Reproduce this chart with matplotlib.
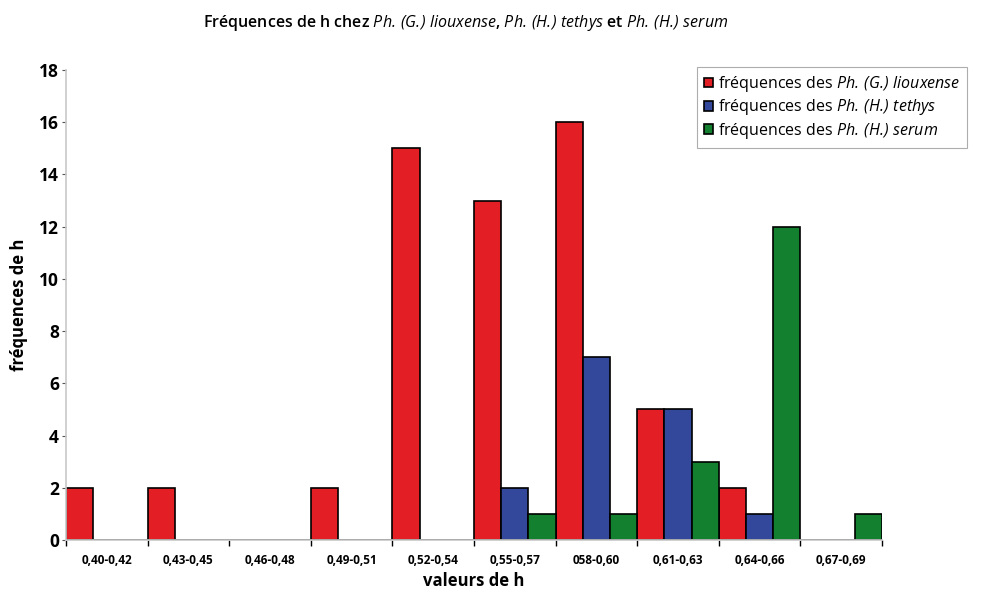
import matplotlib.pyplot as plt
import numpy as np

plt.rcParams['font.family'] = ['Open Sans', 'DejaVu Sans']
plt.rcParams['mathtext.fontset'] = 'custom'
plt.rcParams['mathtext.it'] = 'Open Sans:italic'
plt.rcParams['mathtext.rm'] = 'Open Sans:italic'
plt.rcParams['mathtext.default'] = 'it'

categories = ['0,40-0,42', '0,43-0,45', '0,46-0,48', '0,49-0,51', '0,52-0,54',
              '0,55-0,57', '058-0,60', '0,61-0,63', '0,64-0,66', '0,67-0,69']
liouxense = [2, 2, 0, 2, 15, 13, 16, 5, 2, 0]
tethys = [0, 0, 0, 0, 0, 2, 7, 5, 1, 0]
serum = [0, 0, 0, 0, 0, 1, 1, 3, 12, 1]

series = [
    (liouxense, '#e31e24', 'fréquences des $Ph.\\,(G.\\!)\\ liouxense$'),
    (tethys, '#33489a', 'fréquences des $Ph.\\,(H.\\!)\\ tethys$'),
    (serum, '#13802f', 'fréquences des $Ph.\\,(H.\\!)\\ serum$'),
]

fig = plt.figure(figsize=(9.85, 5.94), dpi=100)
ax = fig.add_axes([66/985, 54/594, 816/985, 470/594])

x = np.arange(len(categories))
w = 1/3
for j, (vals, col, lab) in enumerate(series):
    ax.bar(x + j*w, vals, width=w, align='edge', color=col,
           edgecolor='black', linewidth=1.2, label=lab)

ax.set_xlim(0, len(categories))
ax.set_ylim(0, 18)
ax.set_yticks(range(0, 19, 2))
ax.set_xticks(range(len(categories) + 1))
ax.set_xticklabels([])
ax.set_xticks(x + 0.5, minor=True)
ax.set_xticklabels(categories, minor=True, fontsize=8.5, fontweight='bold')
ax.tick_params(axis='x', which='minor', length=0, pad=10)
ax.tick_params(axis='x', which='major', length=4, width=1, color='black', direction='out')
ax.tick_params(axis='y', length=3, width=0.8, color='#555555', labelsize=12.5, pad=2)
for t in ax.get_yticklabels():
    t.set_fontweight('bold')

for s in ['top', 'right']:
    ax.spines[s].set_visible(False)
for s in ['left', 'bottom']:
    ax.spines[s].set_color('#c8c8c8')
    ax.spines[s].set_linewidth(1.2)

ax.set_xlabel('valeurs de h', fontsize=12, fontweight='bold', labelpad=4)
ax.set_ylabel('fréquences de h', fontsize=12, fontweight='bold', labelpad=8)

fig.text(0.473, 0.962,
         'Fréquences de h chez $Ph.\\,(G.\\!)\\ liouxense$, '
         '$Ph.\\,(H.\\!)\\ tethys$ et $Ph.\\,(H.\\!)\\ serum$',
         ha='center', va='center', fontsize=11.5, fontweight='semibold')

leg = fig.legend(loc='upper left', bbox_to_anchor=(697/985, 1 - 67/594),
                 fontsize=11.5, frameon=True, fancybox=False,
                 handlelength=0.55, handleheight=0.55, handletextpad=0.3,
                 labelspacing=0.2, borderpad=0.45, borderaxespad=0)
leg.get_frame().set_edgecolor('#999999')
leg.get_frame().set_linewidth(0.8)

fig.savefig('out.png', dpi=100)
